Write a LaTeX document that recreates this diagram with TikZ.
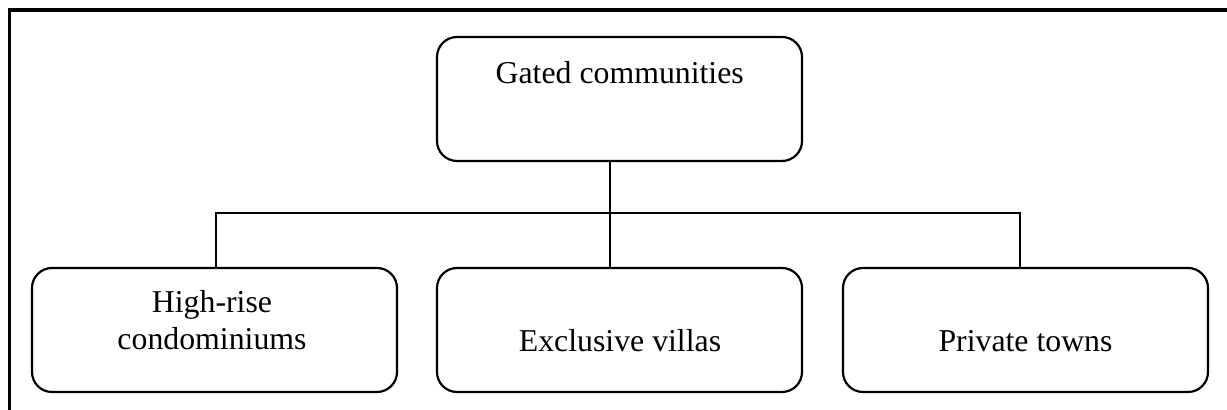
\documentclass[tikz,border=0pt]{standalone}
\usepackage{fontspec}
\setmainfont{Liberation Serif}
\begin{document}
\begin{tikzpicture}[x=0.5pt,y=-0.5pt,
  box/.style={draw,line width=1.1pt,rounded corners=10pt,minimum width=182.5pt,minimum height=62pt,inner sep=0pt},
  lbl/.style={anchor=base,inner sep=0pt,font=\fontsize{15.9pt}{18.5pt}\selectfont},
  conn/.style={line width=1pt},
  frame/.style={line width=1.6pt}]
\useasboundingbox (0,0) rectangle (1227,410);
\coordinate (fbl) at (9.5,412);
\coordinate (ftl) at (9.5,10);
\coordinate (ftr) at (1229,10);
\draw[frame] (fbl) -- (ftl) -- (ftr);
\node[box] (top) at (619.5,99) {};
\node[box] (b1) at (214.5,330) {};
\node[box] (b2) at (619.5,330) {};
\node[box] (b3) at (1025.5,330) {};
\node[lbl] (ttop) at (619.7,84) {Gated communities};
\node[lbl] (t1a) at (212,313) {High-rise};
\node[lbl] (t1b) at (212,350) {condominiums};
\node[lbl] (t2) at (620,352) {Exclusive villas};
\node[lbl] (t3) at (1025.5,352) {Private towns};
\coordinate (j) at (610,212.7);
\coordinate (hl) at (216,212.7);
\coordinate (hr) at (1020,212.7);
\draw[conn] (top.south -| j) -- (j);
\draw[conn] (b1.north -| hl) -- (hl) -- (hr) -- (b3.north -| hr);
\draw[conn] (j) -- (b2.north -| j);
\end{tikzpicture}
\end{document}
